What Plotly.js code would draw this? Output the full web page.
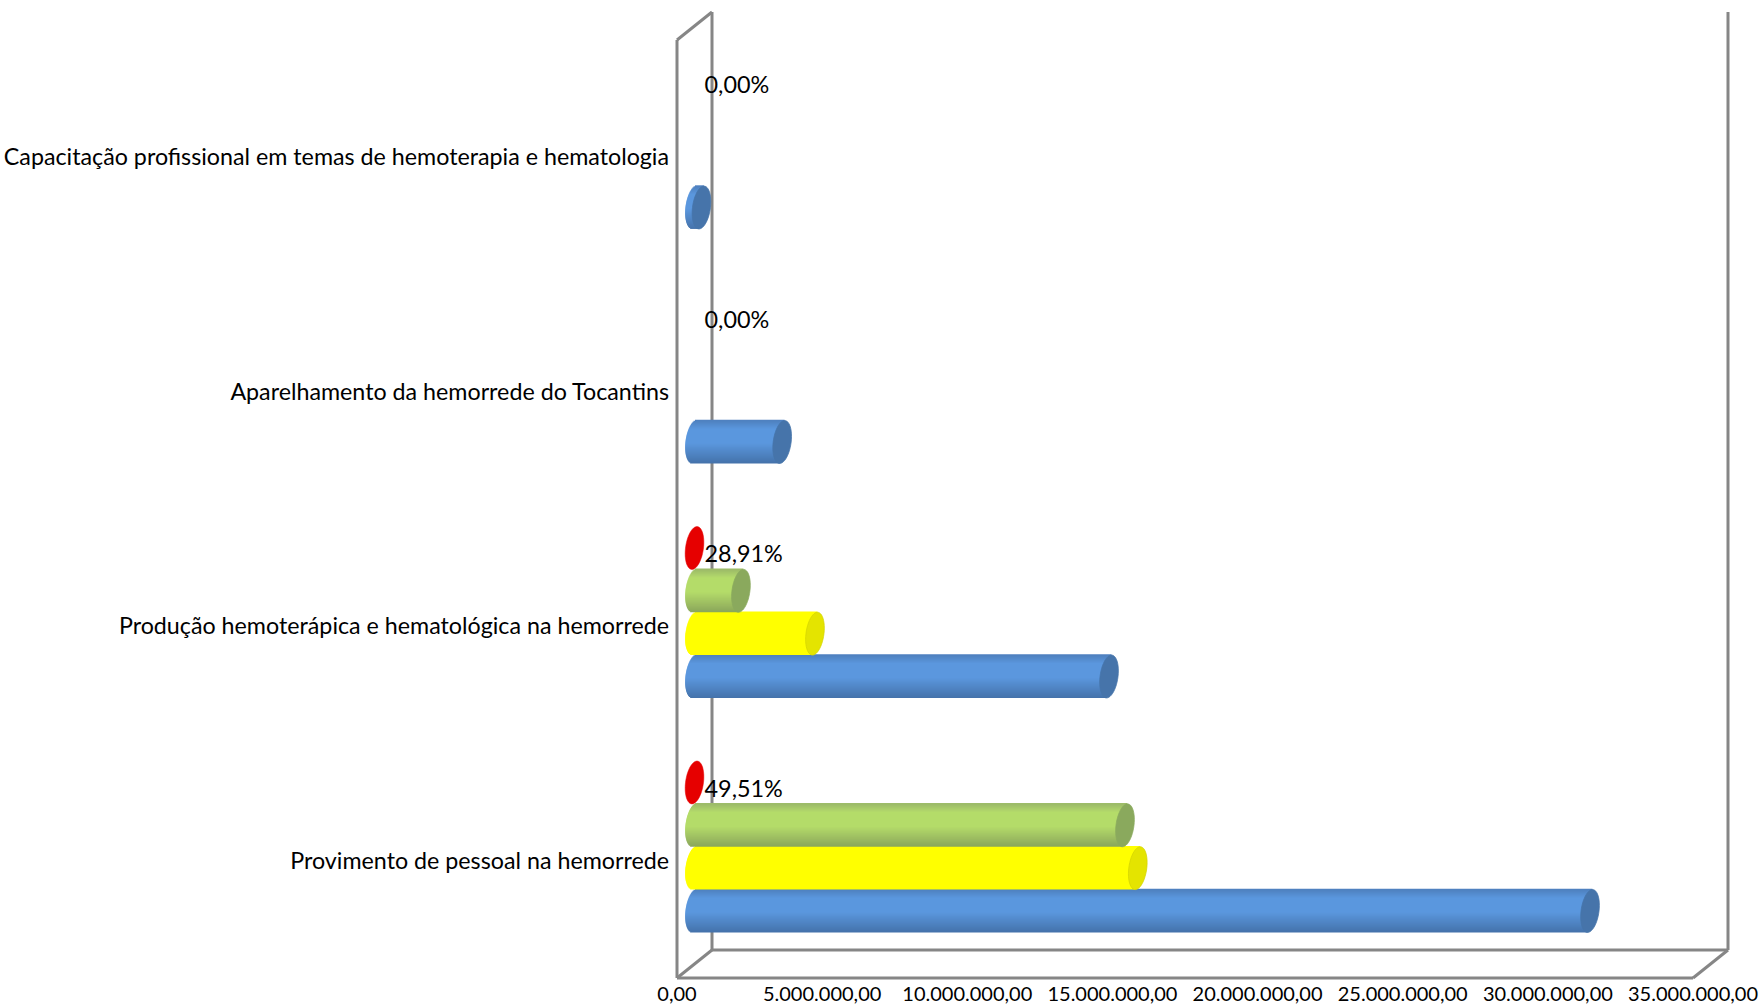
<!DOCTYPE html>
<html>
<head>
<meta charset="utf-8">
<script src="https://cdn.plot.ly/plotly-3.0.1.min.js"></script>
<style>html,body{margin:0;padding:0;background:#fff}#chart{width:1760px;height:1006px}</style>
</head>
<body>
<div id="chart"></div>
<script>
const categories = [
  "Provimento de pessoal na hemorrede",
  "Produção hemoterápica e hematológica na hemorrede",
  "Aparelhamento da hemorrede do Tocantins",
  "Capacitação profissional em temas de hemoterapia e hematologia"
];
const seriesBlue   = [30850000, 14280000, 3020000, 240000];
const seriesYellow = [15270000, 4150000, null, null];
const seriesGreen  = [14830000, 1600000, null, null];
const seriesRed    = [0, 0, null, null];
const percentLabels = ["49,51%", "28,91%", "0,00%", "0,00%"];
const xTicks = [0, 5000000, 10000000, 15000000, 20000000, 25000000, 30000000, 35000000];

const W = 1760, H = 1006;
const frontL = 677, frontR = 1693, frontB = 978, frontT = 40;
const depthX = 35, depthY = 28;
const pxPerUnit = (frontR - frontL) / 35000000;
const midX = depthX / 2, midY = depthY / 2;
const grey = "#868686";
const slot = 0.1827;
const capHalfW = 9 / pxPerUnit, skew = 2.5 / pxPerUnit, capHalfH = slot / 2;
const BANDS = 43;
const labelGap = 10 / pxPerUnit;
const labelFont = "Lato, 'Open Sans', sans-serif";

function mix(a, b, k) {
  return "rgb(" + a.map((v, i) => Math.round(v + (b[i] - v) * k)).join(",") + ")";
}
function shade(stops, t) {
  const [top, mid, bot] = stops;
  if (t < -0.6) return mix(top, mid, (t + 1) / 0.4);
  if (t < 0.05) return mix(mid, mid, 0);
  return mix(mid, bot, (t - 0.05) / 0.95);
}
const styles = [
  {vals: seriesBlue,   off: -1.5, stops: [[78,128,190],[91,151,222],[68,114,170]], cap: "#4674aa", edge: "#4674aa"},
  {vals: seriesYellow, off: -0.5, stops: [[255,255,0],[255,255,0],[255,255,0]],   cap: "#e4e400", edge: "#d4d400"},
  {vals: seriesGreen,  off:  0.5, stops: [[155,186,105],[181,220,106],[138,166,91]], cap: "#8aa95d", edge: "#8aa95d"}
];

const ys = categories.map((_, i) => i);
const traces = [{x: [null], y: [null], type: "scatter", xaxis: "x", yaxis: "y", hoverinfo: "skip", showlegend: false}];
const shapes = [];

function ellipsePath(xc, yc) {
  let d = "";
  for (let k = 0; k < 48; k++) {
    const a = 2 * Math.PI * k / 48;
    const sy = Math.sin(a);
    const px = xc + capHalfW * Math.cos(a) + skew * sy;
    const py = yc + capHalfH * sy;
    d += (k ? "L" : "M") + px + "," + py + " ";
  }
  return d + "Z";
}

styles.forEach(s => {
  const h = slot / BANDS;
  for (let b = 0; b < BANDS; b++) {
    const t = (b + 0.5) / BANDS * 2 - 1;      // -1 bottom .. +1 top in data space
    const round = Math.sqrt(Math.max(0, 1 - t * t));
    const baseX = -capHalfW * round + skew * t;
    traces.push({
      type: "bar", orientation: "h", xaxis: "x2", yaxis: "y2",
      y: ys,
      base: s.vals.map(v => v === null ? null : baseX),
      x: s.vals.map(v => v === null ? null : v + skew * t - baseX),
      offset: s.off * slot - slot / 2 + b * h,
      width: h * 1.8,
      marker: {color: shade(s.stops, -t), line: {width: 0}},
      hoverinfo: "skip", showlegend: false
    });
  }
  s.vals.forEach((v, i) => {
    if (v === null) return;
    shapes.push({type: "path", xref: "x2", yref: "y2", layer: "above",
      path: ellipsePath(v, i + s.off * slot), fillcolor: s.cap,
      line: {color: s.edge, width: 0.75}});
  });
});
seriesRed.forEach((v, i) => {
  if (v === null) return;
  shapes.push({type: "path", xref: "x2", yref: "y2", layer: "above",
    path: ellipsePath(v, i + 1.5 * slot), fillcolor: "#e60000",
    line: {color: "#e60000", width: 0.5}});
});

traces.push({
  type: "scatter", mode: "text", xaxis: "x2", yaxis: "y2",
  x: categories.map(() => labelGap),
  y: ys.map(i => i + 1.5 * slot - 0.036),
  text: percentLabels, textposition: "middle right",
  textfont: {family: labelFont, size: 23.4, color: "#000"},
  hoverinfo: "skip", showlegend: false, cliponaxis: false
});

function line(x0, y0, x1, y1) {
  return {type: "line", xref: "paper", yref: "paper", layer: "below",
    x0: x0 / W, x1: x1 / W, y0: 1 - y0 / H, y1: 1 - y1 / H,
    line: {color: grey, width: 3}};
}
shapes.unshift(
  line(frontL, frontT, frontL, frontB),
  line(frontL + depthX, frontT - depthY, frontL + depthX, frontB - depthY),
  line(frontL, frontT, frontL + depthX, frontT - depthY),
  line(frontL, frontB, frontL + depthX, frontB - depthY),
  line(frontL + depthX, frontB - depthY, frontR + depthX, frontB - depthY),
  line(frontL, frontB, frontR, frontB),
  line(frontR, frontB, frontR + depthX, frontB - depthY),
  line(frontR + depthX, frontT - depthY, frontR + depthX, frontB - depthY)
);

const layout = {
  width: W, height: H,
  margin: {l: 0, r: 0, t: 0, b: 0, pad: 0},
  paper_bgcolor: "#fff", plot_bgcolor: "rgba(0,0,0,0)",
  showlegend: false, barmode: "overlay", separators: ",.",
  xaxis: {
    domain: [frontL / W, frontR / W], range: [0, 35000000], anchor: "y",
    tickvals: xTicks, tickformat: ",.2f", ticks: "", showgrid: false, zeroline: false, showline: false,
    tickangle: 0, automargin: false, ticklabelstandoff: 2,
    tickfont: {family: labelFont, size: 20, color: "#000"}
  },
  yaxis: {
    domain: [1 - frontB / H, 1 - frontT / H], range: [-0.5, 3.5], anchor: "x",
    tickvals: ys, ticktext: categories, ticks: "", showgrid: false, zeroline: false, showline: false,
    automargin: false, ticklabelstandoff: 7,
    tickfont: {family: labelFont, size: 23.25, color: "#000"}
  },
  xaxis2: {
    domain: [frontL / W, (frontR + depthX) / W],
    range: [-midX / pxPerUnit, (frontR + depthX - frontL - midX) / pxPerUnit],
    anchor: "y2", visible: false, fixedrange: true
  },
  yaxis2: {
    domain: [1 - (frontB - midY) / H, 1 - (frontT - midY) / H], range: [-0.5, 3.5],
    anchor: "x2", visible: false, fixedrange: true
  },
  shapes: shapes
};
Plotly.newPlot("chart", traces, layout, {displayModeBar: false, responsive: false, staticPlot: true});
</script>
</body>
</html>
